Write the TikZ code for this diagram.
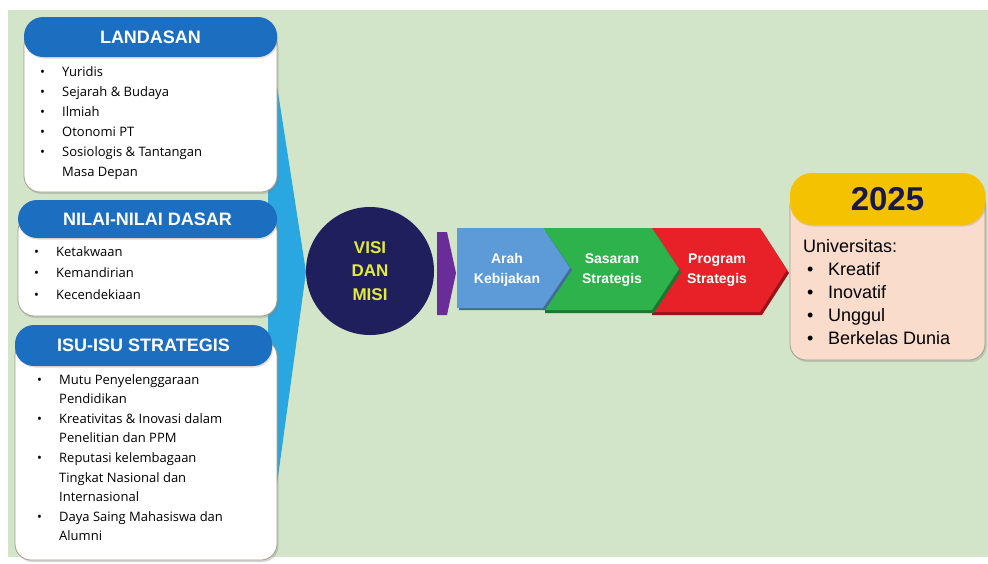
\documentclass[tikz,border=0pt]{standalone}
\usepackage{fontspec}
\setmainfont{Liberation Sans}
\newfontfamily\boxfont{Open Sans}
\usepackage{xcolor}
\usetikzlibrary{shadows}
\definecolor{bggreen}{HTML}{D3E5C8}
\definecolor{hdrblue}{HTML}{1C6EC1}
\definecolor{wedgeblue}{HTML}{2AA6E0}
\definecolor{visinavy}{HTML}{1E1F5C}
\definecolor{visiyellow}{HTML}{E4EA3C}
\definecolor{gatepurple}{HTML}{6A2C98}
\definecolor{arahblue}{HTML}{5D9BD8}
\definecolor{sasgreen}{HTML}{2EB24B}
\definecolor{progred}{HTML}{E82028}
\definecolor{yearyellow}{HTML}{F4C200}
\definecolor{yearpink}{HTML}{FADCCD}
\definecolor{edgegray}{HTML}{A39D8C}
\newcommand{\bul}{\makebox[22pt][l]{\textbullet}}
\newcommand{\cont}{\hspace*{22pt}}

\begin{document}
\begin{tikzpicture}[line cap=round,line join=round,x=1pt,y=-1pt,
    hdr/.style={rounded corners=19,fill=hdrblue,text=white,inner sep=0,
      font=\bfseries\fontsize{18}{20}\selectfont,
      drop shadow={opacity=0.25,shadow xshift=1pt,shadow yshift=-1.5pt}},
    listbox/.style={rounded corners=16,fill=white,draw=edgegray,line width=0.8,
      drop shadow={opacity=0.3,shadow xshift=1.5pt,shadow yshift=-2pt}},
    itemtxt/.style={anchor=north west,inner sep=0,align=left,
      font=\boxfont\fontsize{13}{20}\selectfont},
    chevtxt/.style={text=white,align=center,inner sep=0,
      font=\bfseries\fontsize{14}{20}\selectfont}]
  % frame
  \fill [white] (0,0) rectangle (988,563);
  \fill [bggreen] (8,10) rectangle (988,557);
  % wedge behind the boxes
  \fill [wedgeblue] (268,28) -- (306,272) -- (268,550) -- cycle;
  % LANDASAN
  \node [listbox,minimum width=253,minimum height=162] (landasanbox) at (150.5,111) {};
  \node [hdr,minimum width=253,minimum height=40] (landasanhead) at (150.5,37) {LANDASAN};
  \node [itemtxt] (landasanlist) at (40,66) {\bul Yuridis\\ \bul Sejarah \& Budaya\\ \bul Ilmiah\\
    \bul Otonomi PT\\ \bul Sosiologis \& Tantangan\\ \cont Masa Depan};
  % NILAI-NILAI DASAR
  \node [listbox,minimum width=259,minimum height=101] (nilaibox) at (147.5,265.5) {};
  \node [hdr,minimum width=259,minimum height=38] (nilaihead) at (147.5,219) {NILAI-NILAI DASAR};
  \node [itemtxt,font=\boxfont\fontsize{13}{21.5}\selectfont] (nilailist) at (34,246)
    {\bul Ketakwaan\\ \bul Kemandirian\\ \bul Kecendekiaan};
  % ISU-ISU STRATEGIS
  \node [listbox,minimum width=262,minimum height=220] (isubox) at (146,450) {};
  \node [hdr,minimum width=257,minimum height=41] (isuhead) at (143.5,345.5) {ISU-ISU STRATEGIS};
  \node [itemtxt,font=\boxfont\fontsize{13}{19.6}\selectfont] (isulist) at (37,374)
    {\bul Mutu Penyelenggaraan\\ \cont Pendidikan\\ \bul Kreativitas \& Inovasi dalam\\
    \cont Penelitian dan PPM\\ \bul Reputasi kelembagaan\\ \cont Tingkat Nasional dan\\
    \cont Internasional\\ \bul Daya Saing Mahasiswa dan\\ \cont Alumni};
  % VISI DAN MISI
  \node [circle,fill=visinavy,minimum size=128,inner sep=0,text=visiyellow,align=center,
    font=\bfseries\fontsize{17}{23.5}\selectfont] (visi) at (370,271) {VISI\\DAN\\MISI};
  \fill [gatepurple] (437,232) -- (447,232) -- (456,273) -- (447,315) -- (437,315) -- cycle;
  % chevrons, shadow first
  \fill [progred!65!black] (652,231) -- (762,231) -- (789,273) -- (762,315) -- (652,315) -- cycle;
  \fill [progred] (650,228) -- (760,228) -- (787,270) -- (760,312) -- (650,312) -- (677,270) -- cycle;
  \fill [sasgreen!65!black] (545,231) -- (654,231) -- (681,272) -- (654,313) -- (545,313) -- cycle;
  \fill [sasgreen] (543,228) -- (652,228) -- (679,269) -- (652,310) -- (543,310) -- (570,269) -- cycle;
  \fill [arahblue!70!black] (459,231) -- (545,231) -- (572,270) -- (545,310) -- (459,310) -- cycle;
  \fill [arahblue] (457,228) -- (543,228) -- (570,268) -- (543,308) -- (457,308) -- cycle;
  \node [chevtxt] (arah) at (507,270) {Arah\\Kebijakan};
  \node [chevtxt] (sasaran) at (612,270) {Sasaran\\Strategis};
  \node [chevtxt] (program) at (717,270) {Program\\Strategis};
  % 2025
  \node [listbox,fill=yearpink,minimum width=195,minimum height=170] (yearbox) at (887.5,275) {};
  \node [hdr,fill=yearyellow,rounded corners=22,minimum width=195,minimum height=52,
    text=visinavy!80!black,font=\bfseries\fontsize{33}{36}\selectfont] (yearhead) at (887.5,199) {2025};
  \node [itemtxt,font=\fontsize{18}{23}\selectfont] (yearlist) at (803,239)
    {Universitas:\\ \makebox[25pt][l]{\hspace{4pt}\textbullet}Kreatif\\
    \makebox[25pt][l]{\hspace{4pt}\textbullet}Inovatif\\
    \makebox[25pt][l]{\hspace{4pt}\textbullet}Unggul\\
    \makebox[25pt][l]{\hspace{4pt}\textbullet}Berkelas Dunia};
\end{tikzpicture}
\end{document}
